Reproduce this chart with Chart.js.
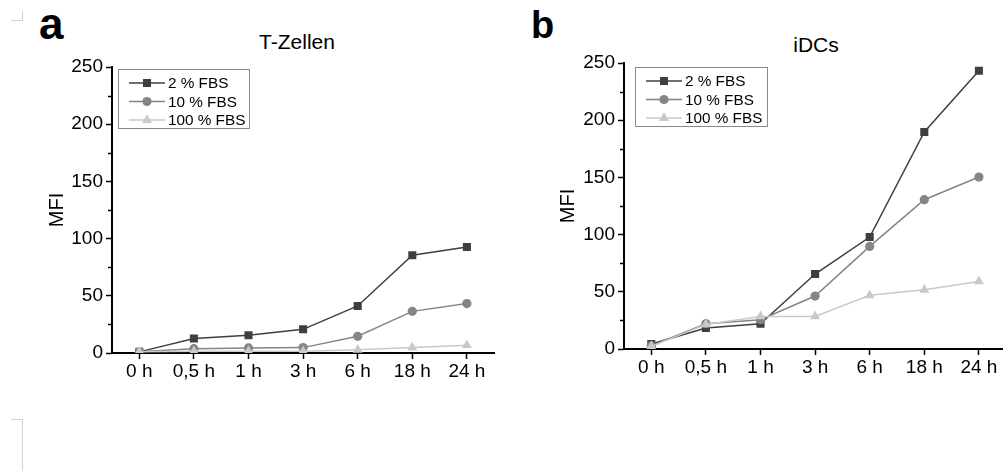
<!DOCTYPE html>
<html>
<head>
<meta charset="utf-8">
<script src="https://cdn.jsdelivr.net/npm/chart.js@4/dist/chart.umd.min.js"></script>
<style>
    html, body { margin: 0; padding: 0; background: #fff; overflow: hidden; }
    body { width: 1003px; height: 471px; position: relative; font-family: "Liberation Sans", Arial, sans-serif; }
    .box { position: absolute; }
    .letter { position: absolute; font-weight: bold; color: #000; }
    .title { position: absolute; width: 200px; text-align: center; font-size: 21px; line-height: 21px; color: #000; }
    .mark { position: absolute; background: #d3d3d3; }
</style>
</head>
<body>
<div class="mark" style="left:11px;top:20px;width:12px;height:1px"></div>
<div class="mark" style="left:22px;top:11px;width:1px;height:10px"></div>
<div class="mark" style="left:11px;top:419px;width:12px;height:1px"></div>
<div class="mark" style="left:22px;top:419px;width:1px;height:52px"></div>

<div class="letter" style="left:39px;top:2px;font-size:44px;line-height:44px">a</div>
<div class="letter" style="left:531px;top:6px;font-size:38px;line-height:38px">b</div>
<div class="title" style="left:197px;top:31px">T-Zellen</div>
<div class="title" style="left:716px;top:34px">iDCs</div>

<div class="box" style="left:0;top:0;width:500px;height:400px"><canvas id="chart-t"></canvas></div>
<div class="box" style="left:500px;top:0;width:512px;height:400px"><canvas id="chart-idc"></canvas></div>

<script>
    const timeLabels = ['0 h', '0,5 h', '1 h', '3 h', '6 h', '18 h', '24 h'];
    const seriesNames = ['2 % FBS', '10 % FBS', '100 % FBS'];

    // T-Zellen
    const tcell2 = [1, 12.6, 15.5, 20.7, 41.1, 85.4, 92.7];
    const tcell10 = [1, 3.8, 4.4, 4.7, 14.6, 36.4, 43.2];
    const tcell100 = [1, 1.5, 1.5, 1.5, 2.8, 4.8, 6.8];

    // iDCs
    const idc2 = [4.4, 18.4, 22.1, 65.5, 97.9, 189.7, 243.3];
    const idc10 = [2.9, 22.1, 25.6, 46.3, 89.7, 130.5, 150.3];
    const idc100 = [2.3, 21.5, 28.5, 28.5, 47, 51.8, 59.1];

    const yMax = 250;
    const yStep = 50;
    const yMinorTicks = [25, 75, 125, 175, 225];

    const seriesColors = ['#3f3f3f', '#858585', '#c9c9c9'];
    const seriesStyles = ['rect', 'circle', 'triangle'];
    const seriesRadius = [5.7, 4.6, 5.8];

    const FONT = '"Liberation Sans", Arial, sans-serif';

    const drawMarker = (ctx, style, x, y, r) => {
        ctx.beginPath();
        if (style === 'rect') {
            const s = r * Math.SQRT1_2;
            ctx.rect(x - s, y - s, 2 * s, 2 * s);
        } else if (style === 'circle') {
            ctx.arc(x, y, r, 0, Math.PI * 2);
        } else {
            let a = 0;
            ctx.moveTo(x + Math.sin(a) * r, y - Math.cos(a) * r);
            a += Math.PI * 2 / 3;
            ctx.lineTo(x + Math.sin(a) * r, y - Math.cos(a) * r);
            a += Math.PI * 2 / 3;
            ctx.lineTo(x + Math.sin(a) * r, y - Math.cos(a) * r);
            ctx.closePath();
        }
        ctx.fill();
    };

    // boxed legend inside the plot + minor ticks on the y axis
    const extrasPlugin = {
        id: 'extras',
        afterDraw(chart, args, opts) {
            const ctx = chart.ctx;
            const y = chart.scales.y;
            const ax = chart.chartArea.left;
            ctx.save();
            ctx.strokeStyle = '#000';
            ctx.lineWidth = 1.5;
            yMinorTicks.forEach(v => {
                const py = Math.round(y.getPixelForValue(v)) + 0.5;
                ctx.beginPath();
                ctx.moveTo(ax - 4, py);
                ctx.lineTo(ax, py);
                ctx.stroke();
            });

            const b = opts.box;
            ctx.strokeStyle = '#8a8a8a';
            ctx.lineWidth = 1;
            ctx.fillStyle = '#fff';
            ctx.fillRect(b.x, b.y, b.w, b.h);
            ctx.strokeRect(b.x + 0.5, b.y + 0.5, b.w, b.h);
            ctx.font = '15.3px ' + FONT;
            ctx.textBaseline = 'middle';
            chart.data.datasets.forEach((ds, i) => {
                const ry = b.y + 14 + i * 18.5;
                ctx.strokeStyle = ds.borderColor;
                ctx.lineWidth = 1.5;
                ctx.beginPath();
                ctx.moveTo(b.x + 11, ry);
                ctx.lineTo(b.x + 47, ry);
                ctx.stroke();
                ctx.fillStyle = ds.pointBackgroundColor;
                drawMarker(ctx, ds.pointStyle, b.x + 29, ry, ds.pointRadius);
                ctx.fillStyle = '#000';
                ctx.fillText(ds.label, b.x + 50, ry + 1);
            });
            ctx.restore();
        }
    };

    const makeDatasets = (values) => values.map((vals, i) => ({
        label: seriesNames[i],
        data: vals,
        borderColor: seriesColors[i],
        backgroundColor: seriesColors[i],
        pointBackgroundColor: seriesColors[i],
        pointBorderColor: seriesColors[i],
        pointBorderWidth: 0,
        pointStyle: seriesStyles[i],
        pointRadius: seriesRadius[i],
        borderWidth: 1.5,
        tension: 0,
        order: 2 - i
    }));

    const makeChart = (id, values, geom) => {
        const ctx = document.getElementById(id).getContext('2d');
        return new Chart(ctx, {
            type: 'line',
            data: { labels: timeLabels, datasets: makeDatasets(values) },
            plugins: [extrasPlugin],
            options: {
                responsive: true,
                maintainAspectRatio: false,
                animation: false,
                events: [],
                layout: { padding: { top: geom.top, left: 0, right: 0, bottom: 0 } },
                plugins: {
                    legend: { display: false },
                    title: { display: false },
                    tooltip: { enabled: false },
                    extras: { box: geom.legend }
                },
                scales: {
                    x: {
                        type: 'category',
                        offset: true,
                        afterFit: (s) => { s.height = geom.xHeight; },
                        border: { color: '#000', width: 2 },
                        grid: { drawOnChartArea: false, drawTicks: true, tickLength: 6, tickColor: '#000', tickWidth: 1.5, offset: false },
                        ticks: { color: '#000', padding: 1, font: { family: FONT, size: 19 }, maxRotation: 0, autoSkip: false }
                    },
                    y: {
                        min: 0,
                        max: yMax,
                        afterFit: (s) => { s.width = geom.yWidth; },
                        border: { color: '#000', width: 2 },
                        grid: { drawOnChartArea: false, drawTicks: true, tickLength: 6, tickColor: '#000', tickWidth: 1.5 },
                        ticks: { stepSize: yStep, color: '#000', padding: 3, font: { family: FONT, size: 19 } },
                        title: { display: true, text: 'MFI', color: '#000', font: { family: FONT, size: 20 }, padding: { top: geom.titlePad, bottom: 0 } }
                    }
                }
            }
        });
    };

    makeChart('chart-t', [tcell2, tcell10, tcell100], {
        top: 67, xHeight: 47, yWidth: 112, titlePad: 45,
        legend: { x: 118, y: 69, w: 131, h: 59 }
    });
    makeChart('chart-idc', [idc2, idc10, idc100], {
        top: 63, xHeight: 51, yWidth: 124, titlePad: 56,
        legend: { x: 135, y: 67, w: 132, h: 59 }
    });
</script>
</body>
</html>
